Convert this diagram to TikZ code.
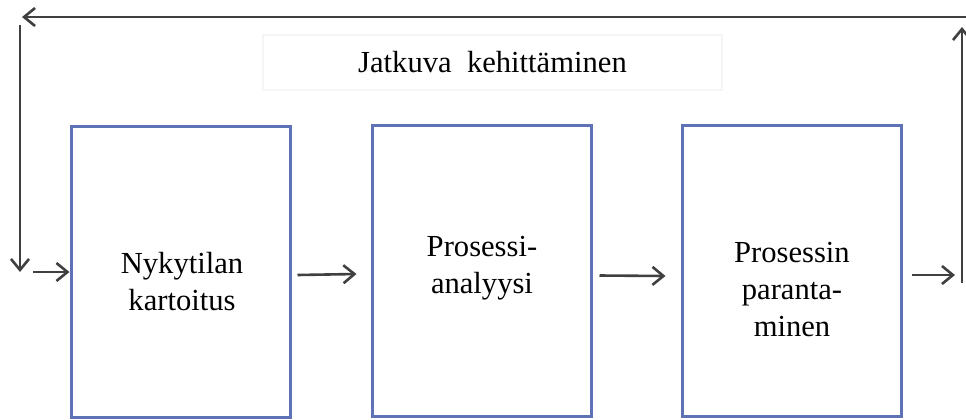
\documentclass[tikz,border=0pt]{standalone}
\usepackage{fontspec}
\setmainfont{Liberation Serif}
\usetikzlibrary{arrows.meta}
\definecolor{boxblue}{RGB}{96,114,182}
\definecolor{arrgray}{RGB}{64,64,64}
\begin{document}
\begin{tikzpicture}[x=0.5pt,y=-0.5pt,
  stepbox/.style={draw=boxblue,line width=1.5pt,fill=white,minimum width=109.5pt,minimum height=145.5pt,inner sep=0pt},
  lbl/.style={font=\fontsize{15.3}{18.5}\selectfont,align=center,inner sep=0pt},
  arr/.style={draw=arrgray,line width=1.3pt,-{Straight Barb[length=5.5pt,width=9pt,line width=1.3pt]}}]
\useasboundingbox (0,0) rectangle (966,419);
% boxes
\node[stepbox] (b1) at (180.5,271.5) {};
\node[stepbox] (b2) at (481.5,270.5) {};
\node[stepbox] (b3) at (791.5,271) {};
% texts
\node[lbl] (t1) at (182,282) {Nykytilan\\kartoitus};
\node[lbl] (t2) at (482,268) {Prosessi-\\analyysi};
\node[lbl] (t3) at (792,290) {Prosessin\\paranta-\\minen};
\node[lbl,draw=black!4,line width=0.8pt,minimum width=229.5pt,minimum height=27.5pt] (title) at (492.5,62.5) {Jatkuva\ \ kehittäminen};
% feedback loop
\coordinate (tr) at (966,17);
\coordinate (tl) at (22,17);
\coordinate (lt) at (20,25);
\coordinate (lb) at (20,272);
\coordinate (li) at (33,272);
\coordinate (ro) at (955,275);
\coordinate (rb) at (962,283);
\coordinate (rt) at (962,27);
\draw[arr] (tr) -- (tl);
\draw[arr] (lt) -- (lb);
\draw[arr] (li) -- (li -| b1.west);
\draw[arr] ([xshift=3pt,yshift=-1.75pt]b1.east) -- ([xshift=-7pt,yshift=-1.75pt]b2.west);
\draw[arr] ([xshift=3.5pt,yshift=-2.5pt]b2.east) -- ([xshift=-7.5pt,yshift=-2.5pt]b3.west);
\draw[arr] ([xshift=4.5pt,yshift=-2pt]b3.east) -- (ro);
\draw[arr] (rb) -- (rt);
\end{tikzpicture}
\end{document}
